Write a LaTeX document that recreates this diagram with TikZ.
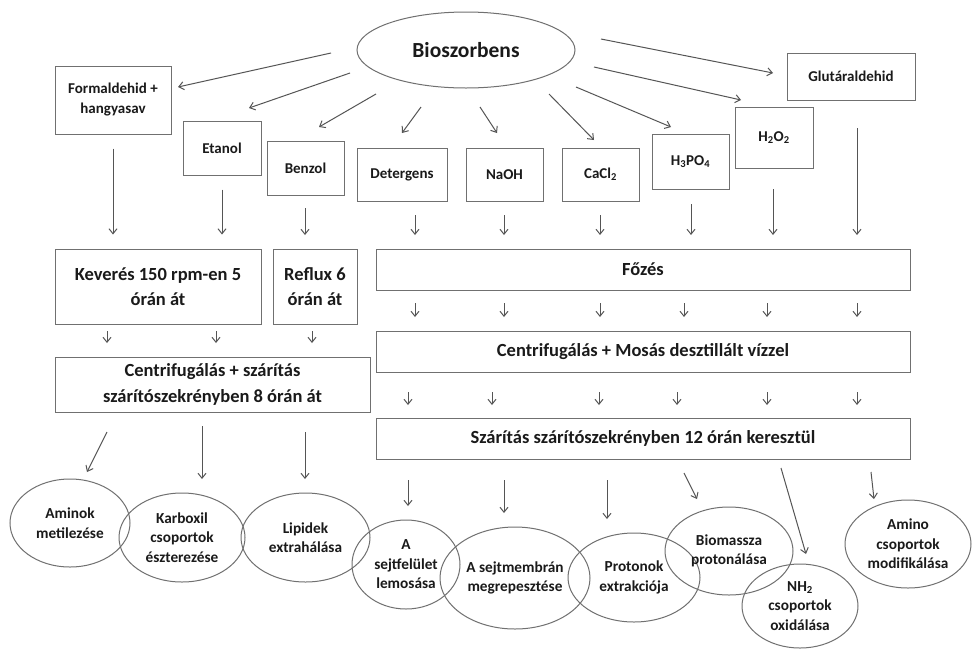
\documentclass[tikz,border=0pt]{standalone}
\usepackage{fontspec}
\setmainfont{Carlito}
\usetikzlibrary{shapes.geometric,arrows.meta,calc}
\definecolor{boxgray}{HTML}{707070}
\definecolor{arrgray}{HTML}{555555}
\definecolor{txt}{HTML}{1A1A1A}
\begin{document}
\begin{tikzpicture}[x=1pt,y=-1pt,
  arr/.style={-{Straight Barb[length=5pt,width=8pt]}, draw=arrgray, line width=1pt},
  smallbox/.style={draw=boxgray, line width=1pt, rectangle, inner sep=0pt, align=center,
     font=\bfseries\fontsize{15}{20}\selectfont, text=txt},
  bigbox/.style={draw=boxgray, line width=1pt, rectangle, inner sep=0pt, align=center,
     font=\bfseries\fontsize{18.5}{25.5}\selectfont, text=txt},
  oval/.style={draw=boxgray, line width=1pt, ellipse, inner sep=0pt, align=center,
     font=\bfseries\fontsize{15.3}{19.5}\selectfont, text=txt}]
\useasboundingbox (0,0) rectangle (972,649);
\fill[white] (0,0) rectangle (972,649);

% source
\node[oval, minimum width=218pt, minimum height=76pt, font=\bfseries\fontsize{21.5}{25}\selectfont] (bio) at (466,50) {Bioszorbens};

% reagents
\node[smallbox, minimum width=116pt, minimum height=68pt] (form) at (113,100) {Formaldehid +\\hangyasav};
\node[smallbox, minimum width=78pt, minimum height=54pt] (etanol) at (222,148) {Etanol};
\node[smallbox, minimum width=77pt, minimum height=54pt] (benzol) at (305.5,168) {Benzol};
\node[smallbox, minimum width=90pt, minimum height=53pt] (deterg) at (402,174.5) {Detergens};
\node[smallbox, minimum width=77pt, minimum height=53pt] (naoh) at (504.5,174.5) {NaOH};
\node[smallbox, minimum width=77pt, minimum height=53pt] (cacl) at (600.5,174.5) {CaCl\textsubscript{2}};
\node[smallbox, minimum width=77pt, minimum height=55pt] (hpo) at (690.5,161.5) {H\textsubscript{3}PO\textsubscript{4}};
\node[smallbox, minimum width=78pt, minimum height=61pt] (hoo) at (774,137.5) {H\textsubscript{2}O\textsubscript{2}};
\node[smallbox, minimum width=128pt, minimum height=47pt] (glut) at (851,76.5) {Glutáraldehid};

% process boxes
\node[bigbox, minimum width=206pt, minimum height=75pt] (kev) at (158,286.5) {Keverés 150 rpm-en 5\\órán át};
\node[bigbox, minimum width=84pt, minimum height=75pt] (reflux) at (315,286.5) {Reflux 6\\órán át};
\node[bigbox, minimum width=315pt, minimum height=55pt] (centl) at (212.5,384.5) {Centrifugálás + szárítás\\szárítószekrényben 8 órán át};
\node[bigbox, minimum width=534pt, minimum height=41pt] (fozes) at (643,269.5) {Főzés};
\node[bigbox, minimum width=534pt, minimum height=41pt] (centr) at (643,351.5) {Centrifugálás + Mosás desztillált vízzel};
\node[bigbox, minimum width=534pt, minimum height=41pt] (szar) at (643,438.5) {Szárítás szárítószekrényben 12 órán keresztül};

% result ovals
\node[oval, minimum width=120pt, minimum height=88pt] (amin) at (70,523) {Aminok\\metilezése};
\node[oval, minimum width=126pt, minimum height=89pt] (karb) at (182,537.5) {Karboxil\\csoportok\\észterezése};
\node[oval, minimum width=129pt, minimum height=89pt] (lip) at (305.5,537.5) {Lipidek\\extrahálása};
\node[oval, minimum width=108pt, minimum height=89pt] (sejtf) at (406,564.5) {A\\sejtfelület\\lemosása};
\node[oval, minimum width=150pt, minimum height=102pt] (sejtm) at (515,578) {A sejtmembrán\\megrepesztése};
\node[oval, minimum width=132pt, minimum height=89pt] (prot) at (634,577.5) {Protonok\\extrakciója};
\node[oval, minimum width=128pt, minimum height=88pt] (biom) at (729,551) {Biomassza\\protonálása};
\node[oval, minimum width=116pt, minimum height=84pt] (nh) at (800,606) {NH\textsubscript{2}\\csoportok\\oxidálása};
\node[oval, minimum width=126pt, minimum height=88pt] (amino) at (908,544) {Amino\\csoportok\\modifikálása};

% arrows from the source
\coordinate (s1) at (331,53);  \coordinate (e1) at (178,87);
\coordinate (s2) at (350,73);  \coordinate (e2) at (249,108);
\coordinate (s3) at (376,94);  \coordinate (e3) at (319,127);
\coordinate (s4) at (421,107); \coordinate (e4) at (402,133);
\coordinate (s5) at (480,107); \coordinate (e5) at (497,133);
\coordinate (s6) at (549,94);  \coordinate (e6) at (594,140);
\coordinate (s7) at (576,87);  \coordinate (e7) at (671,127);
\coordinate (s8) at (594,67);  \coordinate (e8) at (741,100);
\coordinate (s9) at (601,39);  \coordinate (e9) at (773,73);
\foreach \i in {1,...,9} {\draw[arr] (s\i) -- (e\i);}

% reagents to process boxes
\draw[arr, shorten <=14pt, shorten >=14pt] (form.south) -- (form.south |- kev.north);
\draw[arr, shorten <=14pt, shorten >=14pt] (etanol.south) -- (etanol.south |- kev.north);
\draw[arr, shorten <=13pt, shorten >=14pt] (305,195) -- (305,249);
\draw[arr, shorten <=14pt, shorten >=14pt] (415,201) -- (415,249);
\draw[arr, shorten <=14pt, shorten >=14pt] (504,201) -- (504,249);
\draw[arr, shorten <=14pt, shorten >=14pt] (600,201) -- (600,249);
\draw[arr, shorten <=15pt, shorten >=14pt] (691,189) -- (691,249);
\draw[arr, shorten <=21pt, shorten >=14pt] (773,168) -- (773,249);
\draw[arr, shorten <=28pt, shorten >=14pt] (857,100) -- (857,249);

% left column
\foreach \x in {107,216} {\draw[arr, shorten <=7pt, shorten >=14pt] (\x,324) -- (\x,357);}
\draw[arr, shorten <=7pt, shorten >=14pt] (312,324) -- (312,357);

% right column
\foreach \x in {415,504,600,684,767,857} {\draw[arr, shorten <=13pt, shorten >=14pt] (\x,290) -- (\x,331);}
\foreach \x in {408,492,599,677,767,857} {\draw[arr, shorten <=20pt, shorten >=13pt] (\x,372) -- (\x,418);}

% to results
\coordinate (a1) at (107,432); \coordinate (b1) at (87,472);
\coordinate (a2) at (202,426); \coordinate (b2) at (202,479);
\coordinate (a3) at (305,432); \coordinate (b3) at (305,479);
\coordinate (a4) at (408,480); \coordinate (b4) at (408,506);
\coordinate (a5) at (504,480); \coordinate (b5) at (504,513);
\coordinate (a6) at (607,480); \coordinate (b6) at (607,519);
\coordinate (a7) at (684,473); \coordinate (b7) at (697,499);
\coordinate (a8) at (781,468); \coordinate (b8) at (806,554);
\coordinate (a9) at (871,472); \coordinate (b9) at (874,499);
\foreach \i in {1,...,9} {\draw[arr] (a\i) -- (b\i);}
\end{tikzpicture}
\end{document}
